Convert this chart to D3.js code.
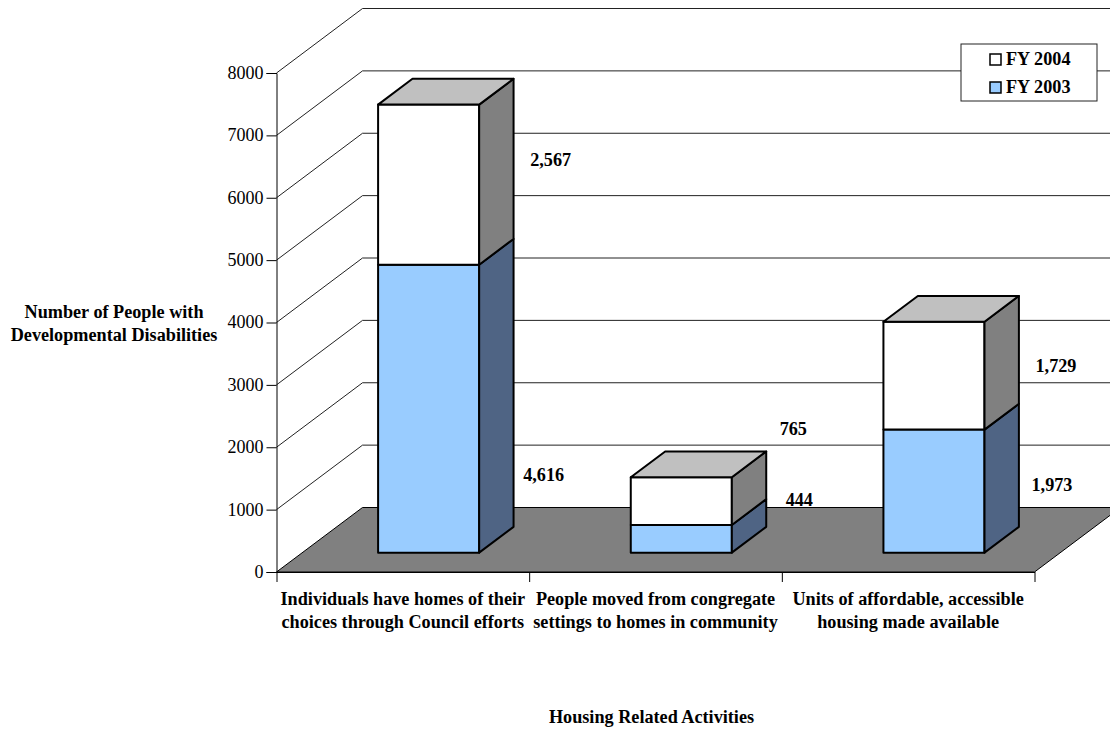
<!DOCTYPE html>
<meta charset="utf-8">
<style>
    body { margin: 0; background: #fff; }
    svg { display: block; }
    text { font-family: "Liberation Serif", "Times New Roman", serif; fill: #000; }
    .bold { font-weight: bold; font-size: 18.2px; }
</style>

<script src="https://cdnjs.cloudflare.com/ajax/libs/d3/7.3.0/d3.min.js"></script>

<div id="my_dataviz"></div>

<script>

    // chart values
    const categories = [
        ["Individuals have homes of their", "choices through Council efforts"],
        ["People moved from congregate", "settings to homes in community"],
        ["Units of affordable, accessible", "housing made available"]
    ];
    const fy2003 = [4616, 444, 1973];
    const fy2004 = [2567, 765, 1729];
    const yTicks = [0, 1000, 2000, 3000, 4000, 5000, 6000, 7000, 8000];
    const legendLabels = ["FY 2004", "FY 2003"];
    const yTitle = ["Number of People with", "Developmental Disabilities"];
    const xTitle = "Housing Related Activities";

    var width = 1110, height = 731;

    var svg = d3.select("#my_dataviz")
        .append("svg")
        .attr("width", width)
        .attr("height", height);

    var x = d3.scaleBand()
        .domain(d3.range(categories.length))
        .range([276.5, 1034.5]);

    var y = d3.scaleLinear()
        .domain([0, 8000])
        .range([572, 73]);

    // oblique projection: z runs from 0 (front) to 1 (back wall)
    var depthX = 86, depthY = 64.5;
    function pt(px, py, z) {
        return [px + z * depthX, py - z * depthY];
    }
    function poly(points, fill, strokeWidth) {
        svg.append("path")
            .attr("d", d3.line()(points) + "Z")
            .attr("fill", fill)
            .attr("stroke", "#000")
            .attr("stroke-width", strokeWidth)
            .attr("stroke-linejoin", "round");
    }

    var x0 = x.range()[0], x1 = x.range()[1];

    // wall gridlines, left side then back wall
    yTicks.slice(1).forEach(function (t) {
        svg.append("path")
            .attr("d", d3.line()([pt(x0, y(t), 0), pt(x0, y(t), 1), pt(x1, y(t), 1)]))
            .attr("fill", "none")
            .attr("stroke", "#222")
            .attr("stroke-width", 1);
    });

    // floor
    poly([pt(x0, y(0), 0), pt(x0, y(0), 1), pt(x1, y(0), 1), pt(x1, y(0), 0)], "#808080", 1);

    // axes
    var yAxis = svg.append("g")
        .attr("transform", "translate(" + x0 + ",0)")
        .call(d3.axisLeft(y).tickValues(yTicks).tickFormat(d3.format("d")).tickSize(10).tickPadding(3));
    yAxis.selectAll("text").style("font-size", "18px").attr("dy", "0.3em");

    // ticks sit on the category band edges, so the labels are drawn separately
    var xAxisScale = d3.scaleLinear().domain([0, categories.length]).range(x.range());
    svg.append("g")
        .attr("transform", "translate(0," + y(0) + ")")
        .call(d3.axisBottom(xAxisScale).ticks(categories.length).tickFormat("").tickSize(10).tickSizeOuter(0));

    // bars occupy 40% of the band and the middle of the floor depth
    var barW = x.bandwidth() * 0.4, zFront = 0.3, zBack = 0.7;

    function segment(i, from, to, frontFill, sideFill, withTop) {
        var l = x(i) + (x.bandwidth() - barW) / 2, r = l + barW;
        var yb = y(from), yt = y(to);
        poly([pt(l, yb, zFront), pt(l, yt, zFront), pt(r, yt, zFront), pt(r, yb, zFront)], frontFill, 2);
        poly([pt(r, yb, zFront), pt(r, yt, zFront), pt(r, yt, zBack), pt(r, yb, zBack)], sideFill, 2);
        if (withTop) {
            poly([pt(l, yt, zFront), pt(l, yt, zBack), pt(r, yt, zBack), pt(r, yt, zFront)], "#c0c0c0", 2);
        }
    }

    categories.forEach(function (c, i) {
        segment(i, 0, fy2003[i], "#99ccff", "#4f6484", false);
        segment(i, fy2003[i], fy2003[i] + fy2004[i], "#ffffff", "#808080", true);
    });

    // value labels, offset from the middle of each bar segment's front face
    var numFmt = d3.format(",");
    var shift2004 = [[122, -25], [112, -72], [122, -10]];
    var shift2003 = [[115, 66], [118, -39], [118, -6]];
    categories.forEach(function (c, i) {
        var cx = x(i) + x.bandwidth() / 2 + zFront * depthX;
        var yMid2003 = y(fy2003[i] / 2) - zFront * depthY;
        var yMid2004 = y(fy2003[i] + fy2004[i] / 2) - zFront * depthY;
        svg.append("text").attr("class", "bold").attr("text-anchor", "middle")
            .attr("x", cx + shift2004[i][0])
            .attr("y", yMid2004 + shift2004[i][1] + 6)
            .text(numFmt(fy2004[i]));
        svg.append("text").attr("class", "bold").attr("text-anchor", "middle")
            .attr("x", cx + shift2003[i][0])
            .attr("y", yMid2003 + shift2003[i][1] + 6)
            .text(numFmt(fy2003[i]));
    });

    // category labels
    categories.forEach(function (c, i) {
        c.forEach(function (line, k) {
            svg.append("text").attr("class", "bold").attr("text-anchor", "middle")
                .attr("x", x(i) + x.bandwidth() / 2)
                .attr("y", 605 + k * 23)
                .text(line);
        });
    });

    // axis titles
    yTitle.forEach(function (line, k) {
        svg.append("text").attr("class", "bold").attr("text-anchor", "middle")
            .attr("x", 114).attr("y", 318 + k * 23).text(line);
    });
    svg.append("text").attr("class", "bold").attr("text-anchor", "middle")
        .attr("x", 651.5).attr("y", 723).text(xTitle);

    // legend
    var legend = svg.append("g").attr("transform", "translate(961,44)");
    legend.append("rect")
        .attr("x", 0).attr("y", 0).attr("width", 136).attr("height", 57)
        .attr("fill", "#fff").attr("stroke", "#222").attr("stroke-width", 1);
    var legendFill = ["#ffffff", "#99ccff"];
    legendLabels.forEach(function (d, i) {
        legend.append("rect")
            .attr("x", 29).attr("y", 10 + i * 28).attr("width", 11).attr("height", 11)
            .attr("fill", legendFill[i]).attr("stroke", "#000").attr("stroke-width", 1.5);
        legend.append("text").attr("class", "bold")
            .attr("x", 45).attr("y", 21 + i * 28).text(d);
    });

</script>
